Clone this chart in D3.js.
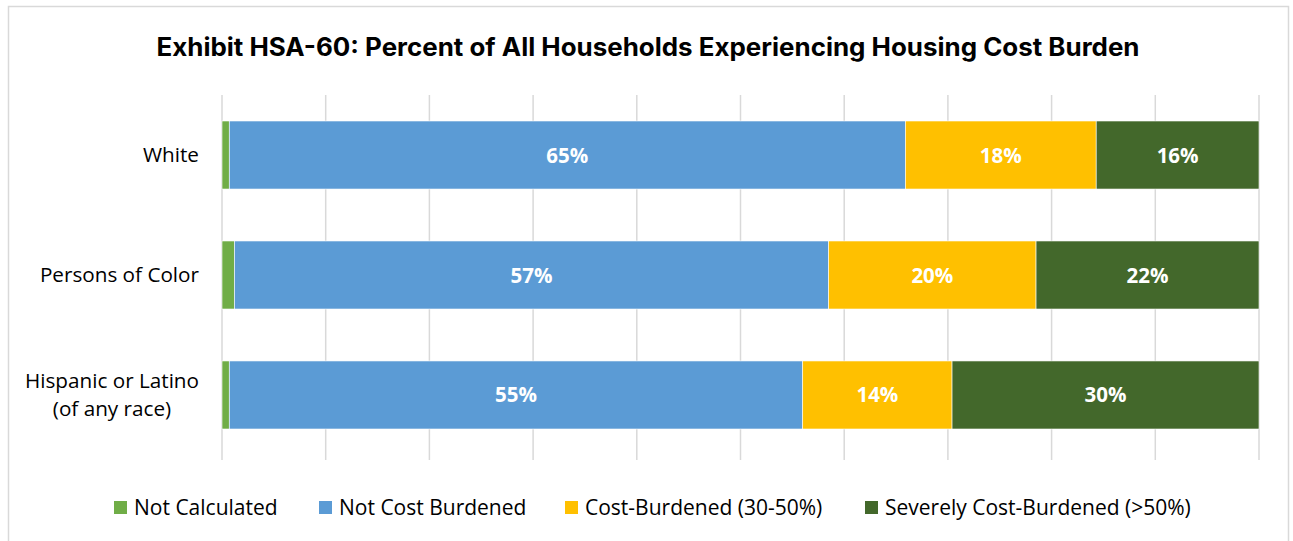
<!DOCTYPE html>
<html>
<head>
<meta charset="utf-8">
<script src="https://cdn.jsdelivr.net/npm/d3@7"></script>
<style>
  html, body { margin: 0; padding: 0; background: #fff; }
  svg { display: block; }
</style>
</head>
<body>
<svg id="chart" width="1293" height="541"></svg>
<script>
// Household groups and their share in each cost-burden category (percent)
const categories = ["White", "Persons of Color", "Hispanic or Latino\n(of any race)"];
const seriesNames = ["Not Calculated", "Not Cost Burdened", "Cost-Burdened (30-50%)", "Severely Cost-Burdened (>50%)"];
const notCalculated = [0.7, 1.2, 0.7];
const notCostBurdened = [65.2, 57.3, 55.3];
const costBurdened = [18.4, 20.0, 14.4];
const severelyBurdened = [15.7, 21.5, 29.6];
const xTicks = [0, 10, 20, 30, 40, 50, 60, 70, 80, 90, 100];

const colors = ["#70ad47", "#5b9bd5", "#ffc000", "#43682b"];
const labelFont = "'Open Sans', 'Noto Sans', sans-serif";

const svg = d3.select("#chart");

// outer frame
svg.append("rect")
  .attr("x", 8.5).attr("y", 6.5)
  .attr("width", 1280).attr("height", 560)
  .attr("fill", "#fff").attr("stroke", "#d9d9d9").attr("stroke-width", 1.5);

// title
svg.append("text")
  .attr("x", 648).attr("y", 56)
  .attr("text-anchor", "middle")
  .attr("font-family", "Inter, 'Noto Sans', sans-serif")
  .attr("font-weight", 700)
  .attr("font-size", 25)
  .attr("textLength", 983)
  .attr("lengthAdjust", "spacingAndGlyphs")
  .attr("fill", "#000")
  .text("Exhibit HSA-60: Percent of All Households Experiencing Housing Cost Burden");

const plot = { left: 222, right: 1259, top: 95, bottom: 455, gridBottom: 460 };

const x = d3.scaleLinear().domain([0, 100]).range([plot.left, plot.right]);
const y = d3.scaleBand().domain(categories).range([plot.top, plot.bottom]).paddingInner(0.433).paddingOuter(0.2167);

// vertical gridlines
svg.append("g")
  .selectAll("line")
  .data(xTicks)
  .join("line")
  .attr("x1", d => x(d)).attr("x2", d => x(d))
  .attr("y1", plot.top).attr("y2", plot.gridBottom)
  .attr("stroke", "#d9d9d9").attr("stroke-width", 1.5);

// stacked data
const rows = categories.map((c, i) => ({
  category: c,
  [seriesNames[0]]: notCalculated[i],
  [seriesNames[1]]: notCostBurdened[i],
  [seriesNames[2]]: costBurdened[i],
  [seriesNames[3]]: severelyBurdened[i]
}));
const stacked = d3.stack().keys(seriesNames)(rows);

const layers = svg.append("g")
  .selectAll("g")
  .data(stacked)
  .join("g")
  .attr("fill", (d, i) => colors[i]);

layers.selectAll("rect")
  .data(d => d)
  .join("rect")
  .attr("x", d => x(d[0]))
  .attr("y", d => y(d.data.category))
  .attr("width", d => x(d[1]) - x(d[0]))
  .attr("height", y.bandwidth())
  .attr("stroke", "#fff").attr("stroke-width", 0.6);

// value labels for the three main segments
stacked.forEach((layer, i) => {
  if (i === 0) return;
  svg.append("g")
    .selectAll("text")
    .data(layer)
    .join("text")
    .attr("x", d => (x(d[0]) + x(d[1])) / 2)
    .attr("y", d => y(d.data.category) + y.bandwidth() / 2 + 7.5)
    .attr("text-anchor", "middle")
    .attr("font-family", labelFont)
    .attr("font-weight", 700)
    .attr("font-size", 20.5)
    .attr("fill", "#fff")
    .text(d => Math.round(d[1] - d[0]) + "%");
});

// category labels (multi-line labels are centred on their widest line)
const catG = svg.append("g");
categories.forEach(c => {
  const lines = c.split("\n");
  const cy = y(c) + y.bandwidth() / 2;
  const lh = 27.5;
  const t = catG.append("text")
    .attr("font-family", labelFont)
    .attr("font-size", 20.7)
    .attr("fill", "#000");
  lines.forEach((ln, j) => {
    t.append("tspan")
      .attr("y", cy + 7 + (j - (lines.length - 1) / 2) * lh)
      .text(ln);
  });
  const spans = t.selectAll("tspan").nodes();
  const widest = d3.max(spans, s => s.getComputedTextLength());
  const rightEdge = 199;
  if (lines.length === 1) {
    t.attr("text-anchor", "end");
    t.selectAll("tspan").attr("x", rightEdge);
  } else {
    t.attr("text-anchor", "middle");
    t.selectAll("tspan").attr("x", rightEdge - widest / 2);
  }
});

// legend
const legendX = [114, 319, 565, 865];
const lg = svg.append("g");
seriesNames.forEach((name, i) => {
  lg.append("rect")
    .attr("x", legendX[i]).attr("y", 501)
    .attr("width", 13).attr("height", 13)
    .attr("fill", colors[i]);
  lg.append("text")
    .attr("x", legendX[i] + 20).attr("y", 515)
    .attr("font-family", labelFont)
    .attr("font-size", 21)
    .attr("fill", "#000")
    .text(name);
});
</script>
</body>
</html>
